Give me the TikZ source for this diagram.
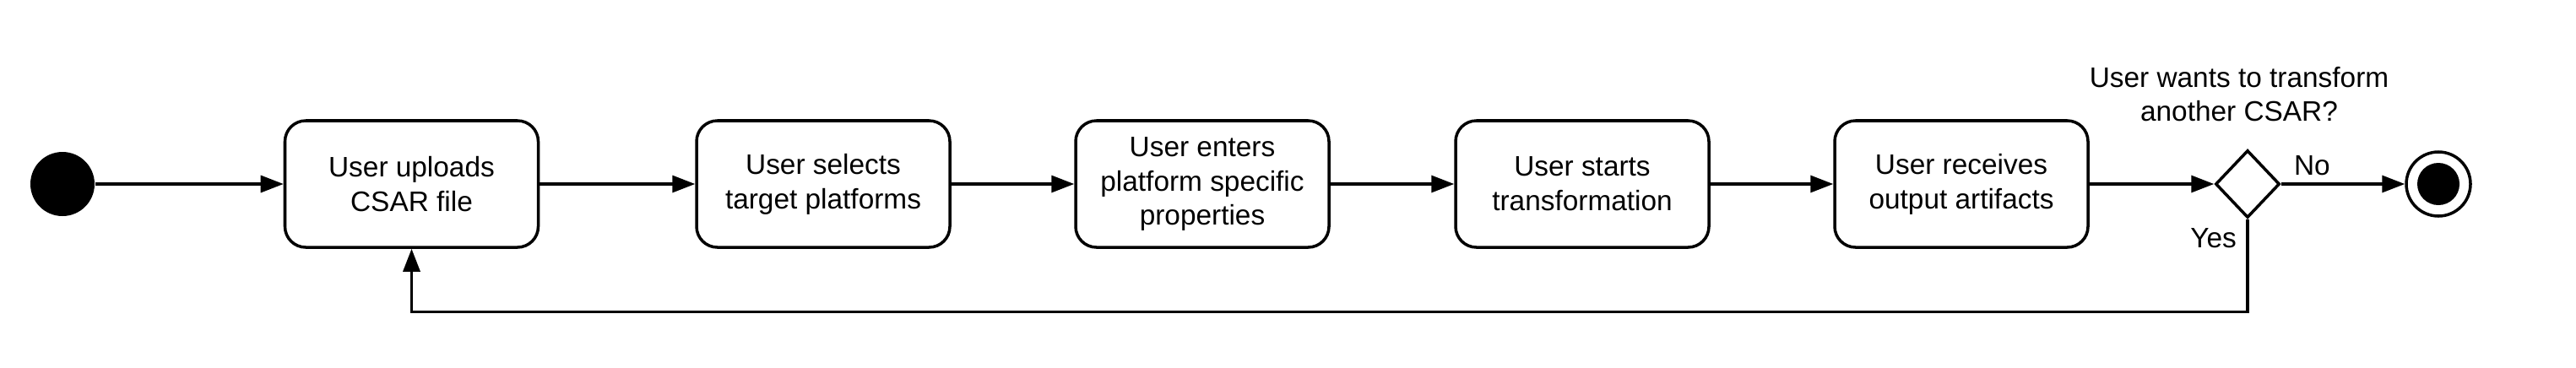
\documentclass[tikz,border=0pt]{standalone}
\usepackage{fontspec}
\setmainfont{Liberation Sans}
\usetikzlibrary{arrows.meta, positioning, shapes.geometric}

\begin{document}
\begin{tikzpicture}[
    activity/.style={rectangle, draw, line width=1pt, rounded corners=7pt,
                  minimum width=3cm, minimum height=1.5cm,
                  text centered, align=center,
                  font=\fontsize{9.5}{11.6}\selectfont},
    startnode/.style={circle, fill=black, minimum size=0.76cm, inner sep=0pt},
    endnode/.style={circle, draw, line width=1pt, minimum size=0.76cm, inner sep=0pt},
    decision/.style={diamond, draw, line width=1pt, inner sep=0pt,
                  minimum width=0.76cm, minimum height=0.8cm},
    lbl/.style={font=\fontsize{9.5}{11.5}\selectfont, align=center},
    arrow/.style={-{Triangle[length=0.27cm, width=0.2cm]}, line width=0.9pt}
]
    \useasboundingbox (0, 0) rectangle (30.51, 4.35);

    % Start
    \node[startnode] (start) at (0.74, 2.17) {};

    % Activities
    \node[activity] (upload) at (4.875, 2.17)
        {User uploads\\CSAR file};
    \node[activity] (select) at (9.75, 2.17)
        {User selects\\target platforms};
    \node[activity] (props) at (14.24, 2.17)
        {User enters\\platform specific\\properties};
    \node[activity] (trans) at (18.74, 2.17)
        {User starts\\transformation};
    \node[activity] (output) at (23.23, 2.17)
        {User receives\\output artifacts};

    % Decision
    \node[decision] (again) at (26.62, 2.17) {};
    \node[lbl, above=0.2cm of again, xshift=-1mm] (question)
        {User wants to transform\\another CSAR?};

    % End
    \node[endnode] (stop) at (28.88, 2.17) {};
    \fill (stop) circle (0.25cm);

    % Arrows
    \draw[arrow] (start)  -- (upload);
    \draw[arrow] (upload) -- (select);
    \draw[arrow] (select) -- (props);
    \draw[arrow] (props)  -- (trans);
    \draw[arrow] (trans)  -- (output);
    \draw[arrow] (output) -- (again);
    \draw[arrow] (again)  -- node[lbl, above, pos=0.25, yshift=-1pt] {No} (stop);
    \draw[arrow] (again.south)
        -- node[lbl, left, pos=0.2] {Yes} ++(0, -1.1)
        -| (upload.south);

\end{tikzpicture}
\end{document}
